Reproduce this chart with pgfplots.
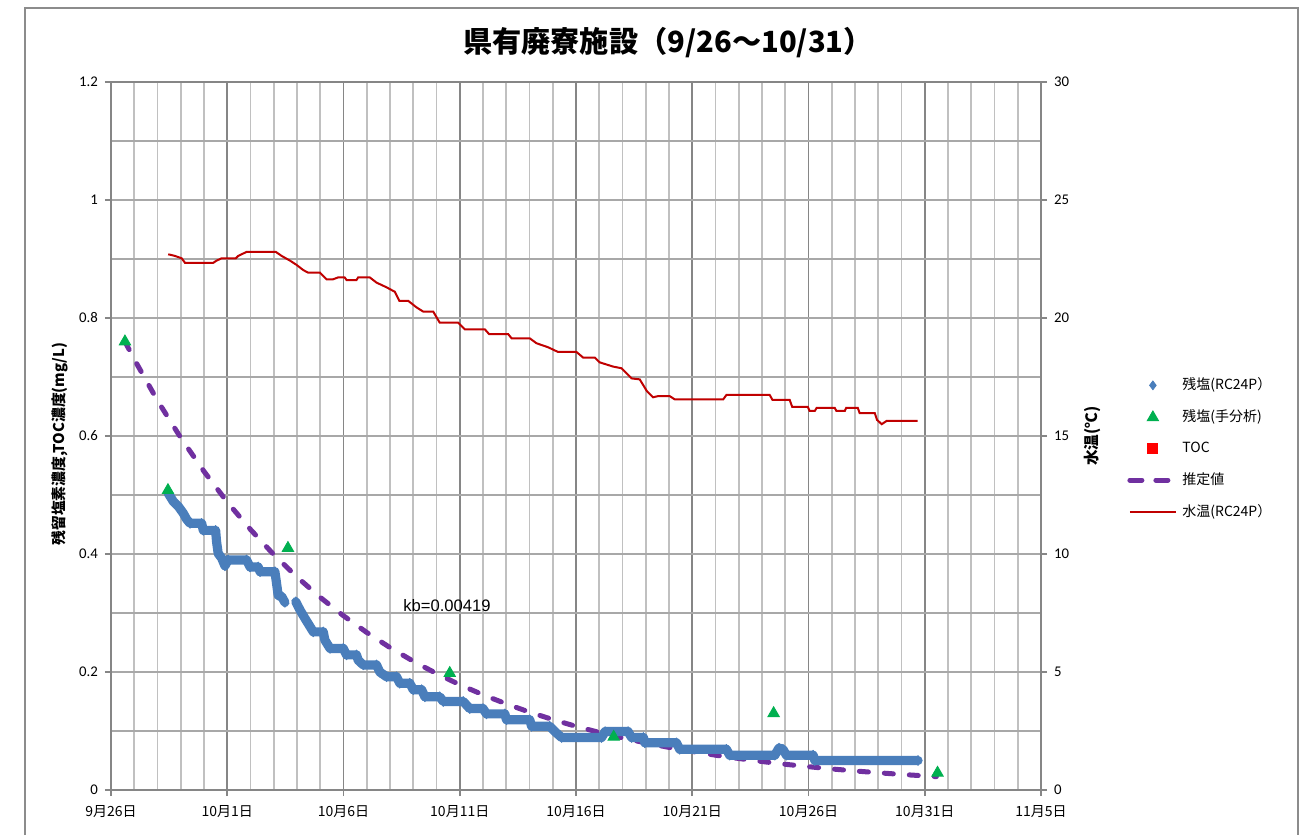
\documentclass[border=0pt]{standalone}
\usepackage{fontspec}
\setmainfont{Carlito}
\newfontfamily\jp{Noto Sans CJK JP}
\newfontfamily\arial{Liberation Sans}
\usepackage{pgfplots}
\pgfplotsset{compat=1.18}
\definecolor{cblue}{HTML}{4A7EBB}
\definecolor{cgreen}{HTML}{00B050}
\definecolor{cred}{HTML}{C00000}
\definecolor{cpurple}{HTML}{7030A0}
\definecolor{gmajor}{HTML}{868686}
\definecolor{gminor}{HTML}{C0C0C0}
\definecolor{ghor}{HTML}{A8A8A8}
\definecolor{frame}{HTML}{8C8C8C}
\begin{document}
\begin{tikzpicture}
\useasboundingbox (0,0) rectangle (658pt,417.5pt);
\fill[white] (0,0) rectangle (658pt,417.5pt);
\draw[frame, line width=1pt] (12.5pt,0) -- (12.5pt,413.5pt) -- (649pt,413.5pt) -- (649pt,0);
\node[font=\jp\bfseries\fontsize{14.6}{16}\selectfont] at (334pt,396pt) {県有廃寮施設（9/26～10/31）};
\node[rotate=90, font=\jp\bfseries\fontsize{7.4}{8}\selectfont] at (30pt,195.5pt) {残留塩素濃度,TOC濃度(mg/L)};
\node[rotate=90, font=\jp\bfseries\fontsize{7.8}{8}\selectfont] at (546pt,199.5pt) {水温(℃)};

\begin{axis}[
  at={(55.5pt,22.5pt)}, anchor=south west,
  scale only axis, width=465pt, height=354pt,
  xmin=0, xmax=40, ymin=0, ymax=1.2,
  xtick={0,5,...,40}, minor x tick num=4,
  ytick={0,0.2,0.4,0.6,0.8,1.0,1.2}, minor y tick num=1,
  xticklabels={9月26日,10月1日,10月6日,10月11日,10月16日,10月21日,10月26日,10月31日,11月5日},
  /pgf/number format/assume math mode=true,
  /pgf/number format/.cd, fixed, precision=1, /pgfplots/.cd,
  xticklabel style={font=\jp\fontsize{7}{8}\selectfont, yshift=-1pt},
  yticklabel style={font=\fontsize{7.4}{8}\selectfont},
  grid=both,
  major x grid style={gmajor, line width=0.9pt},
  minor x grid style={gminor, line width=0.9pt},
  major y grid style={ghor, line width=0.9pt},
  minor y grid style={ghor, line width=0.9pt},
  axis line style={gmajor, line width=0.9pt},
  tick align=outside, major tick length=3pt, minor tick length=0pt,
  tick style={gmajor, line width=0.8pt},
  xtick pos=left, ytick pos=left,
  unbounded coords=jump,
  clip=false,
]
% estimated curve (kb=0.00419)
\addplot[cpurple, line width=2.5pt, line cap=round, dash pattern=on 4.5pt off 8pt] coordinates {
(0.6,0.760) (1,0.730) (2,0.660) (3,0.597) (4,0.540) (5,0.488) (6,0.4415) (7,0.399)
(8,0.361) (9,0.3265) (10,0.2953) (11,0.267) (12,0.2414) (13,0.2183) (14,0.1974)
(15,0.1785) (16,0.1614) (17,0.146) (18,0.132) (19,0.1194) (20,0.1079) (21,0.0976)
(22,0.0883) (23,0.0798) (24,0.0722) (25,0.0653) (26,0.0590) (27,0.0534) (28,0.0483)
(29,0.0436) (30,0.0395) (31,0.0357) (32,0.0323) (33,0.0292) (34,0.0264) (35,0.0239) (35.5,0.0227)};
% residual chlorine (RC24P)
\addplot[cblue, line width=4.6pt, line join=round, line cap=round, mark=diamond*, mark size=2.5pt, mark options={solid, line width=0.3pt}] coordinates {
(2.46,0.503) (2.68,0.489) (2.89,0.481) (3.11,0.469) (3.25,0.459) (3.40,0.452) (3.90,0.452)
(3.97,0.440) (4.50,0.440) (4.54,0.421) (4.61,0.401) (4.76,0.393) (4.90,0.380) (5.04,0.390)
(5.83,0.390) (5.98,0.378) (6.33,0.378) (6.41,0.370) (7.05,0.370) (7.09,0.359) (7.19,0.330)
(7.34,0.328) (7.48,0.318) (7.70,nan) (7.95,0.319) (8.13,0.305) (8.34,0.291) (8.56,0.277) (8.70,0.268)
(9.13,0.268) (9.20,0.254) (9.42,0.240) (9.99,0.240) (10.13,0.229) (10.56,0.229) (10.63,0.220)
(10.85,0.212) (11.42,0.212) (11.56,0.200) (11.85,0.192) (12.28,0.192) (12.42,0.181) (12.85,0.181)
(13.00,0.170) (13.36,0.170) (13.50,0.158) (14.14,0.158) (14.29,0.150) (15.15,0.150) (15.43,0.138)
(16.00,0.138) (16.15,0.129) (16.94,0.129) (17.01,0.119) (18.01,0.119) (18.09,0.108) (18.87,0.108)
(19.09,0.099) (19.38,0.089) (21.10,0.089) (21.25,0.099) (22.24,0.099) (22.39,0.089) (22.90,0.089)
(22.96,0.080) (24.32,0.080) (24.46,0.069) (26.47,0.069) (26.61,0.059) (28.55,0.059) (28.73,0.071)
(28.90,0.069) (29.05,0.059) (30.20,0.059) (30.27,0.050) (34.71,0.050)};
% manual analysis
\addplot[only marks, mark=triangle*, mark size=3.3pt, cgreen] coordinates {
(0.60,0.760) (2.45,0.508) (7.61,0.410) (14.57,0.198) (21.62,0.090) (28.50,0.130) (35.55,0.029)};
\node[font=\arial\fontsize{8.3}{9}\selectfont] at (axis cs:14.45,0.313) {kb=0.00419};
\end{axis}

\begin{axis}[
  at={(55.5pt,22.5pt)}, anchor=south west,
  scale only axis, width=465pt, height=354pt,
  xmin=0, xmax=40, ymin=0, ymax=30,
  axis x line=none, axis y line*=right,
  ytick={0,5,...,30},
  /pgf/number format/assume math mode=true,
  yticklabel style={font=\fontsize{7.4}{8}\selectfont},
  axis line style={gmajor, line width=0.9pt},
  tick align=outside, major tick length=3pt,
  tick style={gmajor, line width=0.8pt},
  legend style={draw=none, fill=none, at={(1.086,0.594)}, anchor=north west,
    font=\jp\fontsize{7}{8}\selectfont, row sep=4.6pt},
  legend cell align=left,
  legend image code/.code={\draw[mark repeat=2,mark phase=2,#1] plot coordinates {(0pt,0pt) (11.5pt,0pt) (23pt,0pt)};},
]
\addlegendimage{only marks, mark=diamond*, mark size=2.2pt, cblue}
\addlegendentry{残塩(RC24P）}
\addlegendimage{only marks, mark=triangle*, mark size=3.3pt, cgreen}
\addlegendentry{残塩(手分析)}
\addlegendimage{only marks, mark=square*, mark size=2.5pt, red}
\addlegendentry{TOC}
\addlegendimage{cpurple, line width=2.5pt, line cap=round, dash pattern=on 6pt off 7pt}
\addlegendentry{推定値}
\addplot[cred, line width=1pt] coordinates {
(2.46,22.70) (2.75,22.63) (3.04,22.53) (3.18,22.34) (4.40,22.34) (4.54,22.43) (4.76,22.53)
(5.37,22.53) (5.47,22.63) (5.83,22.80) (7.09,22.80) (7.34,22.63) (7.70,22.43) (7.98,22.25)
(8.27,22.03) (8.48,21.92) (8.99,21.92) (9.27,21.64) (9.55,21.64) (9.77,21.72) (10.05,21.72)
(10.13,21.61) (10.56,21.61) (10.63,21.72) (11.13,21.72) (11.42,21.50) (11.85,21.30) (12.21,21.11)
(12.40,20.73) (12.78,20.73) (13.14,20.45) (13.43,20.27) (13.86,20.27) (14.14,19.80) (14.93,19.80)
(15.22,19.52) (16.08,19.52) (16.26,19.32) (17.08,19.32) (17.23,19.14) (18.01,19.14) (18.30,18.93)
(18.80,18.76) (19.23,18.56) (20.02,18.56) (20.31,18.32) (20.81,18.32) (21.02,18.12) (21.60,17.94)
(21.96,17.87) (22.39,17.44) (22.74,17.40) (23.05,16.90) (23.31,16.64) (23.53,16.69) (24.03,16.69)
(24.25,16.55) (26.33,16.55) (26.47,16.74) (28.33,16.74) (28.45,16.53) (29.19,16.53) (29.30,16.23)
(29.97,16.23) (30.05,16.06) (30.27,16.06) (30.35,16.19) (31.13,16.19) (31.20,16.06) (31.56,16.06)
(31.62,16.19) (32.12,16.19) (32.20,15.97) (32.85,15.97) (32.95,15.68) (33.15,15.50) (33.36,15.64)
(34.69,15.64)};
\addlegendentry{水温(RC24P）}
\end{axis}
\end{tikzpicture}
\end{document}
